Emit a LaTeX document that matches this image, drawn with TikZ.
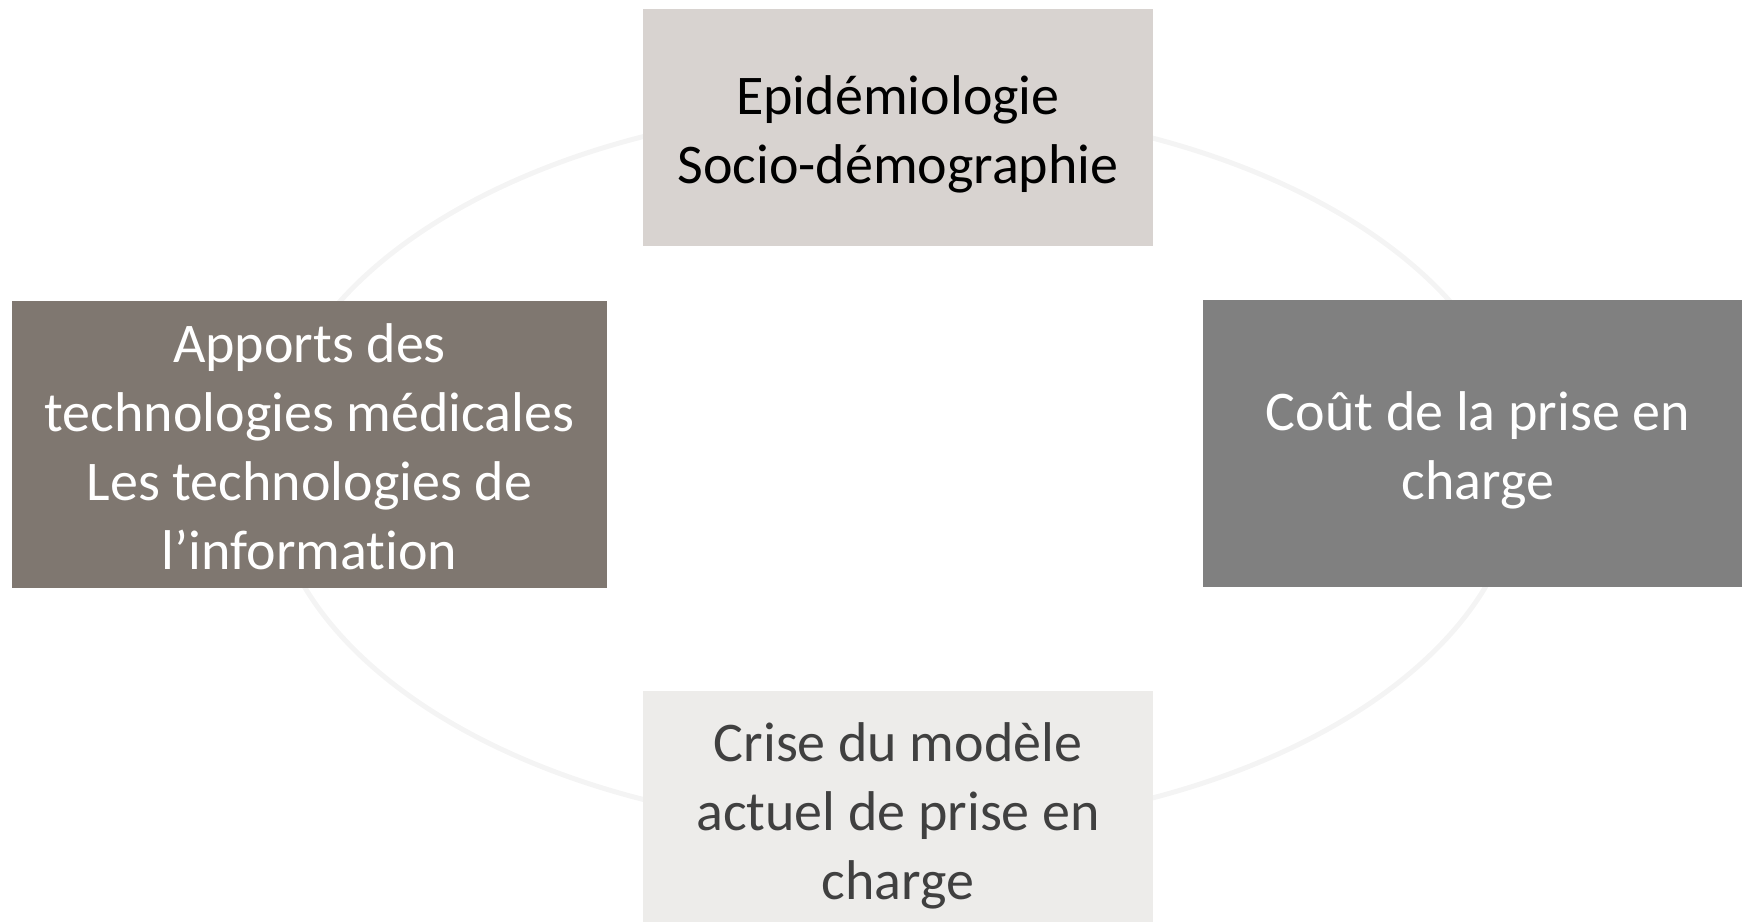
\documentclass[tikz,border=0pt]{standalone}
\usepackage{fontspec}
\setmainfont[Ligatures=NoCommon]{Carlito}
\usepackage{tikz}
\usetikzlibrary{positioning}

\definecolor{grisclair}{HTML}{D8D3D0}
\definecolor{grisbrun}{HTML}{7F7770}
\definecolor{grismoyen}{HTML}{808080}
\definecolor{grispale}{HTML}{EDECEA}
\definecolor{anneau}{HTML}{F4F4F4}
\definecolor{textefonce}{HTML}{404040}

\newcommand{\hautligne}[1]{\rule{0pt}{#1}}

\tikzset{
	facteur/.style={rectangle, draw=none, align=center, inner sep=0pt, font=\fontsize{28}{34.5}\selectfont},
	cercle/.style={draw=anneau, line width=2.5pt},
}

\begin{document}
\begin{tikzpicture}[x=0.5pt,y=-0.5pt]
	\useasboundingbox (0,0) rectangle (1742,923);

	% anneau de fond
	\coordinate (centre) at (895,468);
	\draw[cercle] (centre) ellipse [x radius=312.5pt, y radius=181pt];

	% les quatre facteurs
	\node[facteur, fill=grisclair, text=black, minimum width=255pt, minimum height=118.5pt] (epid) at (898,127.5) {\hautligne{26.5pt}Epidémiologie\\Socio-démographie};
	\node[facteur, fill=grisbrun, text=white, minimum width=297.5pt, minimum height=143.5pt] (apports) at (309.5,444.5) {\hautligne{22pt}Apports des\\technologies médicales\\Les technologies de\\l’information};
	\node[facteur, fill=grismoyen, text=white, minimum width=275pt, minimum height=143.5pt] (cout) at (1478,443.5) {\hautligne{26pt}Coût de la prise en\\charge};
	\node[facteur, fill=grispale, text=textefonce, minimum width=255pt, minimum height=115.5pt] (crise) at (898,806.5) {\hautligne{29pt}Crise du modèle\\actuel de prise en\\charge};
\end{tikzpicture}
\end{document}
